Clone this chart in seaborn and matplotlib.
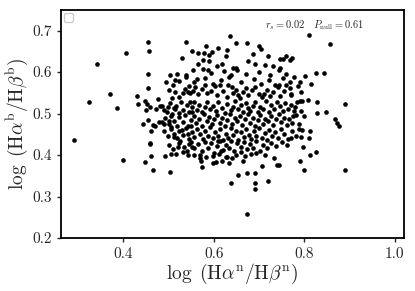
import pandas as pd
import seaborn as sns
import matplotlib.pyplot as plt
import numpy as np

sns.set_style("ticks")
plt.rcParams["font.family"] = "serif"
plt.rcParams["font.serif"] = ["cmr10", "DejaVu Serif"]
plt.rcParams["mathtext.fontset"] = "cm"
plt.rcParams["axes.formatter.use_mathtext"] = True

# outlying / sparse points (x, y)
outer_pts = [
    (0.291, 0.437), (0.325, 0.527), (0.342, 0.620), (0.371, 0.547), (0.385, 0.514),
    (0.400, 0.388), (0.405, 0.646), (0.429, 0.543), (0.432, 0.524), (0.443, 0.474),
    (0.447, 0.384), (0.454, 0.672), (0.457, 0.652), (0.454, 0.596), (0.454, 0.561),
    (0.447, 0.530), (0.452, 0.523), (0.450, 0.509), (0.458, 0.516), (0.454, 0.484),
    (0.458, 0.430), (0.458, 0.426), (0.460, 0.458), (0.460, 0.398), (0.465, 0.365),
    (0.471, 0.511), (0.476, 0.536), (0.479, 0.480), (0.466, 0.472), (0.470, 0.471),
    (0.485, 0.519), (0.489, 0.475), (0.494, 0.575), (0.492, 0.397), (0.499, 0.515),
    (0.501, 0.481), (0.500, 0.556), (0.504, 0.592), (0.502, 0.360), (0.505, 0.402),
    (0.506, 0.467), (0.508, 0.498), (0.510, 0.568), (0.511, 0.444), (0.507, 0.538),
    (0.516, 0.402), (0.515, 0.582), (0.523, 0.578), (0.529, 0.634), (0.539, 0.673),
    (0.532, 0.407), (0.514, 0.512), (0.523, 0.501), (0.529, 0.460), (0.526, 0.435),
    (0.520, 0.420), (0.538, 0.594), (0.539, 0.588), (0.543, 0.552), (0.546, 0.567),
    (0.552, 0.650), (0.554, 0.604), (0.557, 0.400), (0.543, 0.400), (0.546, 0.427),
    (0.551, 0.419), (0.543, 0.452), (0.549, 0.471), (0.552, 0.505), (0.547, 0.527),
    (0.562, 0.583), (0.565, 0.620), (0.566, 0.645), (0.570, 0.394), (0.571, 0.385),
    (0.573, 0.372), (0.575, 0.629), (0.578, 0.646), (0.583, 0.662), (0.587, 0.604),
    (0.589, 0.626), (0.590, 0.642), (0.596, 0.648), (0.598, 0.381), (0.604, 0.384),
    (0.610, 0.659), (0.610, 0.433), (0.615, 0.410), (0.619, 0.620), (0.626, 0.638),
    (0.629, 0.654), (0.618, 0.385), (0.626, 0.396), (0.633, 0.380), (0.635, 0.687),
    (0.633, 0.589), (0.638, 0.332), (0.640, 0.392), (0.643, 0.610), (0.649, 0.669),
    (0.652, 0.606), (0.654, 0.353), (0.660, 0.408), (0.665, 0.385), (0.673, 0.356),
    (0.674, 0.670), (0.673, 0.259), (0.676, 0.627), (0.687, 0.644), (0.692, 0.619),
    (0.692, 0.356), (0.691, 0.333), (0.690, 0.319), (0.694, 0.404), (0.699, 0.662),
    (0.704, 0.656), (0.707, 0.373), (0.713, 0.618), (0.720, 0.638), (0.720, 0.338),
    (0.730, 0.614), (0.733, 0.394), (0.739, 0.377), (0.744, 0.377), (0.744, 0.604),
    (0.744, 0.568), (0.747, 0.632), (0.753, 0.631), (0.760, 0.638), (0.768, 0.630),
    (0.772, 0.634), (0.771, 0.441), (0.773, 0.477), (0.770, 0.544), (0.760, 0.569),
    (0.769, 0.577), (0.768, 0.562), (0.779, 0.517), (0.782, 0.497), (0.784, 0.527),
    (0.788, 0.475), (0.788, 0.462), (0.792, 0.507), (0.793, 0.551), (0.791, 0.531),
    (0.796, 0.531), (0.795, 0.460), (0.790, 0.385), (0.792, 0.444), (0.798, 0.420),
    (0.800, 0.493), (0.799, 0.363), (0.801, 0.591), (0.808, 0.533), (0.810, 0.440),
    (0.812, 0.457), (0.812, 0.400), (0.810, 0.689), (0.815, 0.571), (0.826, 0.599),
    (0.827, 0.529), (0.828, 0.501), (0.826, 0.407), (0.844, 0.599), (0.848, 0.505),
    (0.856, 0.667), (0.868, 0.487), (0.872, 0.477), (0.877, 0.469), (0.889, 0.522),
    (0.890, 0.364),
]

# upper part of the main cloud (0.53 - 0.62)
upper_pts = [
    (0.519, 0.596), (0.577, 0.607), (0.594, 0.598), (0.606, 0.614), (0.622, 0.602),
    (0.637, 0.594), (0.650, 0.611), (0.671, 0.596), (0.700, 0.601), (0.724, 0.592),
    (0.747, 0.609), (0.760, 0.596), (0.778, 0.588), (0.790, 0.575),
    (0.555, 0.575), (0.580, 0.585), (0.598, 0.572), (0.615, 0.580), (0.632, 0.568),
    (0.660, 0.577), (0.688, 0.584), (0.705, 0.572), (0.722, 0.580), (0.735, 0.570),
    (0.752, 0.585), (0.785, 0.566),
    (0.514, 0.553), (0.523, 0.541), (0.531, 0.549), (0.537, 0.559), (0.548, 0.549),
    (0.554, 0.555), (0.559, 0.565), (0.565, 0.547), (0.574, 0.560), (0.580, 0.568),
    (0.585, 0.549), (0.593, 0.555), (0.602, 0.566), (0.607, 0.545), (0.613, 0.569),
    (0.620, 0.554), (0.630, 0.539), (0.640, 0.564), (0.643, 0.550), (0.649, 0.557),
    (0.653, 0.545), (0.658, 0.538), (0.664, 0.552), (0.670, 0.562), (0.676, 0.546),
    (0.684, 0.556), (0.692, 0.563), (0.700, 0.547), (0.706, 0.540), (0.711, 0.548),
    (0.718, 0.556), (0.724, 0.542), (0.731, 0.551), (0.741, 0.564), (0.747, 0.543),
    (0.754, 0.555), (0.770, 0.548),
]

# middle of the cloud (0.47 - 0.53)
middle_pts = [
    (0.481, 0.519), (0.490, 0.509), (0.497, 0.505), (0.503, 0.525), (0.511, 0.513),
    (0.516, 0.518), (0.528, 0.529), (0.531, 0.509), (0.540, 0.521), (0.544, 0.505),
    (0.552, 0.515), (0.557, 0.529), (0.562, 0.509), (0.568, 0.521), (0.574, 0.503),
    (0.580, 0.516), (0.585, 0.529), (0.591, 0.512), (0.598, 0.519), (0.605, 0.506),
    (0.609, 0.528), (0.617, 0.514), (0.624, 0.502), (0.630, 0.523), (0.637, 0.509),
    (0.642, 0.517), (0.647, 0.531), (0.653, 0.511), (0.659, 0.521), (0.665, 0.503),
    (0.670, 0.526), (0.675, 0.514), (0.681, 0.507), (0.686, 0.519), (0.692, 0.529),
    (0.697, 0.505), (0.703, 0.517), (0.709, 0.510), (0.715, 0.531), (0.721, 0.503),
    (0.727, 0.520), (0.733, 0.512), (0.740, 0.527), (0.746, 0.518), (0.752, 0.506),
    (0.758, 0.525), (0.765, 0.512), (0.771, 0.521), (0.778, 0.506),
    (0.485, 0.480), (0.493, 0.490), (0.500, 0.474), (0.505, 0.495), (0.512, 0.483),
    (0.519, 0.471), (0.524, 0.491), (0.532, 0.479), (0.537, 0.496), (0.543, 0.469),
    (0.550, 0.484), (0.556, 0.495), (0.561, 0.477), (0.568, 0.488), (0.574, 0.470),
    (0.579, 0.499), (0.585, 0.482), (0.590, 0.492), (0.596, 0.474), (0.601, 0.487),
    (0.607, 0.497), (0.613, 0.478), (0.618, 0.490), (0.624, 0.471), (0.629, 0.485),
    (0.635, 0.498), (0.641, 0.476), (0.646, 0.489), (0.652, 0.481), (0.658, 0.493),
    (0.663, 0.472), (0.669, 0.486), (0.675, 0.499), (0.680, 0.478), (0.686, 0.490),
    (0.691, 0.470), (0.697, 0.484), (0.703, 0.496), (0.709, 0.476), (0.714, 0.488),
    (0.720, 0.481), (0.726, 0.493), (0.731, 0.472), (0.737, 0.487), (0.743, 0.498),
    (0.749, 0.479), (0.755, 0.490), (0.761, 0.473), (0.767, 0.486), (0.775, 0.495),
]

# lower part of the cloud (0.39 - 0.47)
lower_pts = [
    (0.490, 0.457), (0.498, 0.445), (0.506, 0.462), (0.511, 0.452), (0.518, 0.440),
    (0.524, 0.459), (0.531, 0.448), (0.539, 0.466), (0.545, 0.439), (0.551, 0.455),
    (0.557, 0.444), (0.563, 0.463), (0.569, 0.451), (0.575, 0.438), (0.580, 0.458),
    (0.586, 0.447), (0.591, 0.467), (0.597, 0.441), (0.603, 0.456), (0.609, 0.445),
    (0.614, 0.462), (0.620, 0.437), (0.626, 0.452), (0.631, 0.441), (0.637, 0.465),
    (0.643, 0.448), (0.648, 0.458), (0.654, 0.436), (0.660, 0.455), (0.666, 0.443),
    (0.671, 0.463), (0.677, 0.449), (0.683, 0.438), (0.688, 0.459), (0.694, 0.446),
    (0.700, 0.466), (0.706, 0.442), (0.712, 0.454), (0.717, 0.437), (0.723, 0.461),
    (0.729, 0.447), (0.735, 0.456), (0.742, 0.440), (0.748, 0.463), (0.755, 0.451),
    (0.763, 0.439), (0.772, 0.458), (0.781, 0.445),
    (0.500, 0.425), (0.510, 0.414), (0.522, 0.430), (0.533, 0.419), (0.540, 0.410),
    (0.549, 0.432), (0.557, 0.418), (0.564, 0.426), (0.573, 0.409), (0.580, 0.431),
    (0.588, 0.417), (0.594, 0.428), (0.601, 0.406), (0.607, 0.421), (0.614, 0.433),
    (0.621, 0.413), (0.627, 0.425), (0.633, 0.417), (0.639, 0.434), (0.645, 0.409),
    (0.652, 0.428), (0.659, 0.420), (0.666, 0.432), (0.673, 0.414), (0.680, 0.426),
    (0.687, 0.418), (0.694, 0.435), (0.701, 0.411), (0.709, 0.424), (0.718, 0.416),
    (0.727, 0.430), (0.737, 0.421), (0.750, 0.432), (0.762, 0.425),
    (0.570, 0.401), (0.582, 0.395), (0.597, 0.398), (0.612, 0.402), (0.630, 0.396),
    (0.648, 0.399), (0.668, 0.397), (0.683, 0.402), (0.712, 0.400),
]

stats_text = r"$r_s = 0.02\ \ \ P_{\rm null} = 0.61$"

pts = outer_pts + upper_pts + middle_pts + lower_pts
df = pd.DataFrame(pts, columns=["narrow", "broad"])

fig = plt.figure(figsize=(4.15, 2.91), dpi=100)
ax = fig.add_axes([0.147, 0.182, 0.826, 0.784])

sns.scatterplot(data=df, x="narrow", y="broad", color="black", s=11,
                edgecolor="black", linewidth=0, ax=ax)

ax.set_xlim(0.262, 1.02)
ax.set_ylim(0.2, 0.75)
ax.set_xticks([0.4, 0.6, 0.8, 1.0])
ax.set_yticks([0.2, 0.3, 0.4, 0.5, 0.6, 0.7])
ax.set_xticklabels(["0.4", "0.6", "0.8", "1.0"])
ax.set_yticklabels(["0.2", "0.3", "0.4", "0.5", "0.6", "0.7"])
ax.tick_params(labelsize=11, length=3, width=1)

ax.set_xlabel(r"$\log\ (\mathrm{H}\alpha^{\rm n}/\mathrm{H}\beta^{\rm n})$", fontsize=14, labelpad=1)
ax.set_ylabel(r"$\log\ (\mathrm{H}\alpha^{\rm b}/\mathrm{H}\beta^{\rm b})$", fontsize=14, labelpad=2)

for sp in ax.spines.values():
    sp.set_linewidth(1.3)
    sp.set_color("black")

ax.text(0.595, 0.935, stats_text, transform=ax.transAxes, fontsize=7.5, va="center")
ax.legend(handles=[], loc="upper left", fontsize=7, borderpad=0.45,
          borderaxespad=0.35, handlelength=0, framealpha=1)

fig.savefig("out.png", dpi=100)
